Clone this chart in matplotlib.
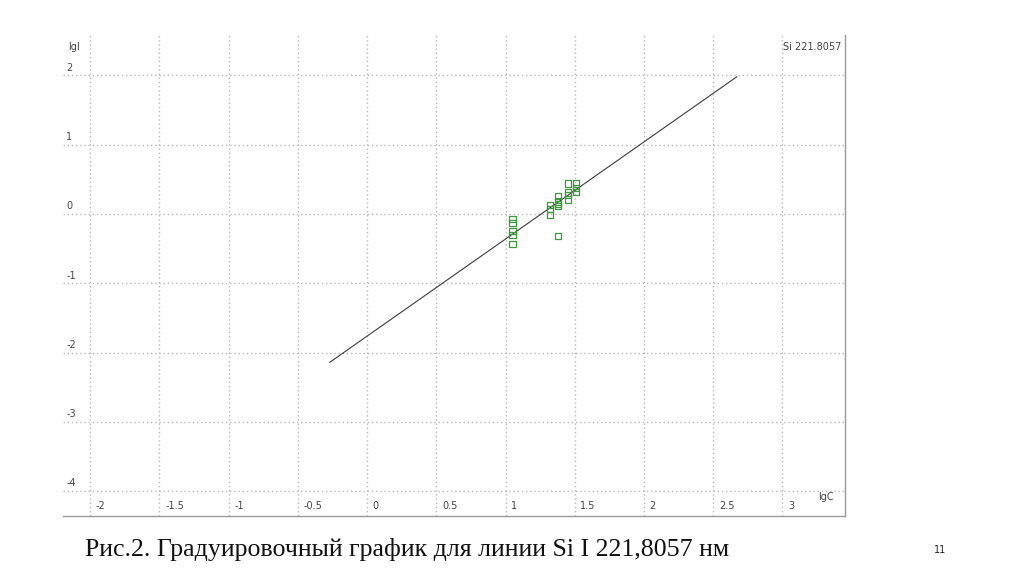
import numpy as np
import matplotlib.pyplot as plt

# calibration points (lgC, lgI)
lgC = [1.05, 1.05, 1.05, 1.05, 1.05,
       1.32, 1.32, 1.32,
       1.38, 1.38, 1.38, 1.38, 1.38,
       1.45, 1.45, 1.45, 1.45,
       1.51, 1.51, 1.51]
lgI = [-0.07, -0.13, -0.25, -0.30, -0.43,
       0.13, 0.07, -0.01,
       0.26, 0.18, 0.14, 0.11, -0.32,
       0.44, 0.31, 0.27, 0.21,
       0.44, 0.38, 0.32]

# calibration line end points
line_x = [-0.27, 2.67]
line_y = [-2.14, 1.98]

x_ticks = [-2, -1.5, -1, -0.5, 0, 0.5, 1, 1.5, 2, 2.5, 3]
x_labels = ["-2", "-1.5", "-1", "-0.5", "0", "0.5", "1", "1.5", "2", "2.5", "3"]
y_ticks = [2, 1, 0, -1, -2, -3, -4]
y_labels = ["2", "1", "0", "-1", "-2", "-3", "-4"]

fig = plt.figure(figsize=(10.24, 5.74), dpi=100)
ax = fig.add_axes([0.0615, 0.101, 0.764, 0.838])
ax.set_xlim(-2.197, 3.454)
ax.set_ylim(-4.358, 2.583)

for s in ["left", "top"]:
    ax.spines[s].set_visible(False)
for s in ["right", "bottom"]:
    ax.spines[s].set_color("#9a9a9a")
    ax.spines[s].set_linewidth(1.0)

ax.set_xticks(x_ticks)
ax.set_yticks(y_ticks)
ax.tick_params(length=0, labelbottom=False, labelleft=False)
ax.grid(True, color="#b8b8b8", linestyle=(0, (1, 2)), linewidth=1.0)

# tick labels sit inside the plot like in the original program
for xt, lab in zip(x_ticks, x_labels):
    ax.annotate(lab, (xt, 0), xycoords=("data", "axes fraction"),
                xytext=(4, 7), textcoords="offset points",
                fontsize=7, color="#444444", ha="left", va="center")
for yt, lab in zip(y_ticks, y_labels):
    ax.annotate(lab, (0, yt), xycoords=("axes fraction", "data"),
                xytext=(2.5, 2), textcoords="offset points",
                fontsize=7, color="#444444", ha="left", va="bottom")

ax.text(0.006, 0.985, "lgI", transform=ax.transAxes, fontsize=7,
        color="#444444", ha="left", va="top")
ax.text(0.995, 0.985, "Si 221.8057", transform=ax.transAxes, fontsize=7,
        color="#444444", ha="right", va="top")
ax.text(0.985, 0.04, "lgC", transform=ax.transAxes, fontsize=7,
        color="#444444", ha="right", va="center")

ax.plot(line_x, line_y, color="#3a3a3a", linewidth=0.8)
ax.scatter(lgC, lgI, marker="s", s=20, facecolors="none",
           edgecolors="#3b9a3b", linewidths=0.9, zorder=3)

fig.text(0.083, 0.042, "Рис.2. Градуировочный график для линии Si I 221,8057 нм",
         family="Liberation Serif", fontsize=18.6, color="#111111",
         ha="left", va="center")
fig.text(0.912, 0.042, "11", fontsize=7, color="#222222", ha="left", va="center")

plt.savefig("out.png", dpi=100)
